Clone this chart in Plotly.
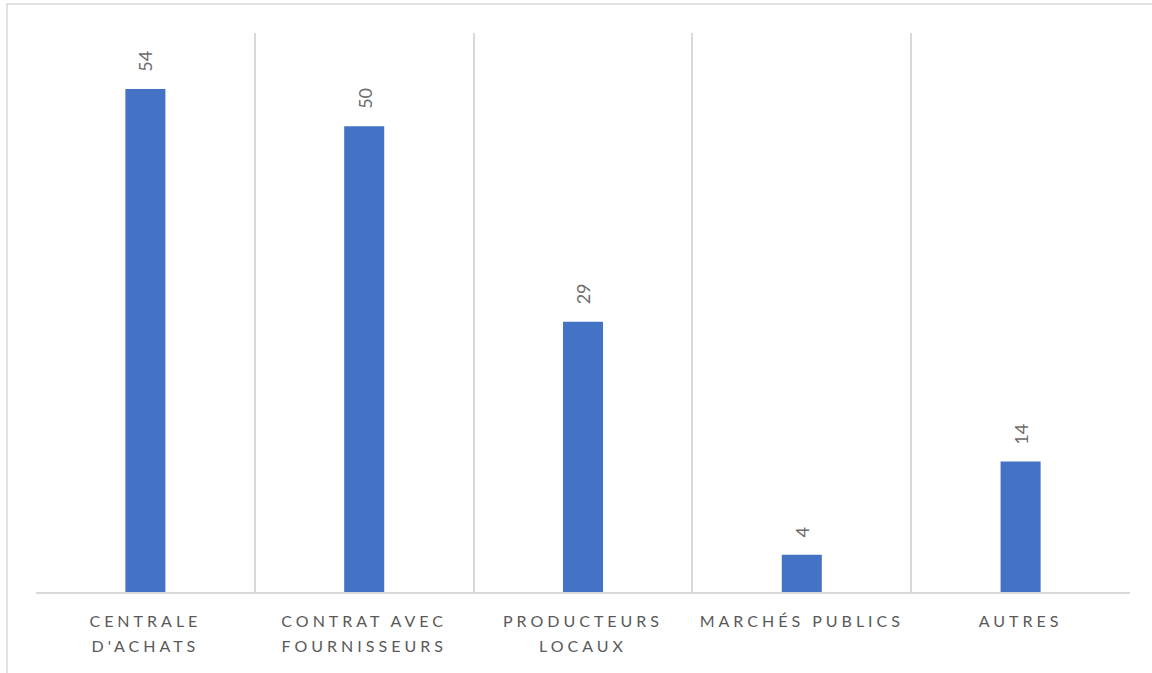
import plotly.graph_objects as go

categories = ["CENTRALE<br>D'ACHATS", "CONTRAT AVEC<br>FOURNISSEURS", "PRODUCTEURS<br>LOCAUX",
              "MARCHÉS PUBLICS", "AUTRES"]
values = [54, 50, 29, 4, 14]

BAR_COLOR = "#4472C4"
TEXT_COLOR = "#595959"
GRID_COLOR = "#d9d9d9"
FONT = "Lato"

fig = go.Figure()
fig.add_trace(go.Bar(
    x=categories, y=values, width=0.183,
    marker=dict(color=BAR_COLOR, line=dict(width=0)),
    hoverinfo="x+y",
))

for c, v in zip(categories, values):
    fig.add_annotation(
        x=c, y=v, text=str(v), textangle=-90, showarrow=False,
        xanchor="center", yanchor="bottom", yshift=15,
        font=dict(family=FONT, size=18, color="#6b6b6b"),
    )

# outer chart-area border (left and top visible)
fig.add_shape(type="line", xref="paper", yref="paper",
              x0=-0.0265, x1=-0.0265, y0=-0.3, y1=1.0519,
              line=dict(color=GRID_COLOR, width=1.5))
fig.add_shape(type="line", xref="paper", yref="paper",
              x0=-0.0275, x1=1.2, y0=1.0519, y1=1.0519,
              line=dict(color=GRID_COLOR, width=1.5))

fig.update_layout(
    width=1152, height=673,
    margin=dict(l=36, r=22, t=33, b=81),
    paper_bgcolor="white", plot_bgcolor="white",
    showlegend=False,
    xaxis=dict(
        type="category", tickson="boundaries", ticks="",
        showgrid=True, gridcolor=GRID_COLOR, gridwidth=1.5,
        showline=True, linecolor=GRID_COLOR, linewidth=1.5,
        tickfont=dict(family=FONT, size=16, color=TEXT_COLOR),
        ticklabelstandoff=14, fixedrange=True,
    ),
    yaxis=dict(
        range=[0, 60], showgrid=False, showticklabels=False,
        zeroline=False, showline=False, fixedrange=True,
    ),
)

post_js = """
var gd = document.getElementById('{plot_id}');
function fixLabels(){
  gd.querySelectorAll('.xtick text').forEach(function(t){
    t.style.letterSpacing = '4px';
    t.querySelectorAll('tspan.line').forEach(function(s){
      var dy = s.getAttribute('dy');
      if (dy && dy.indexOf('em') > 0 && !s.getAttribute('data-fixed')) {
        var v = parseFloat(dy);
        s.setAttribute('dy', (v * 1.2) + 'em');
        s.setAttribute('data-fixed', '1');
      }
    });
  });
}
fixLabels();
gd.on('plotly_afterplot', fixLabels);
"""

fig.write_html("out.html", post_script=post_js, config={"displayModeBar": False})
